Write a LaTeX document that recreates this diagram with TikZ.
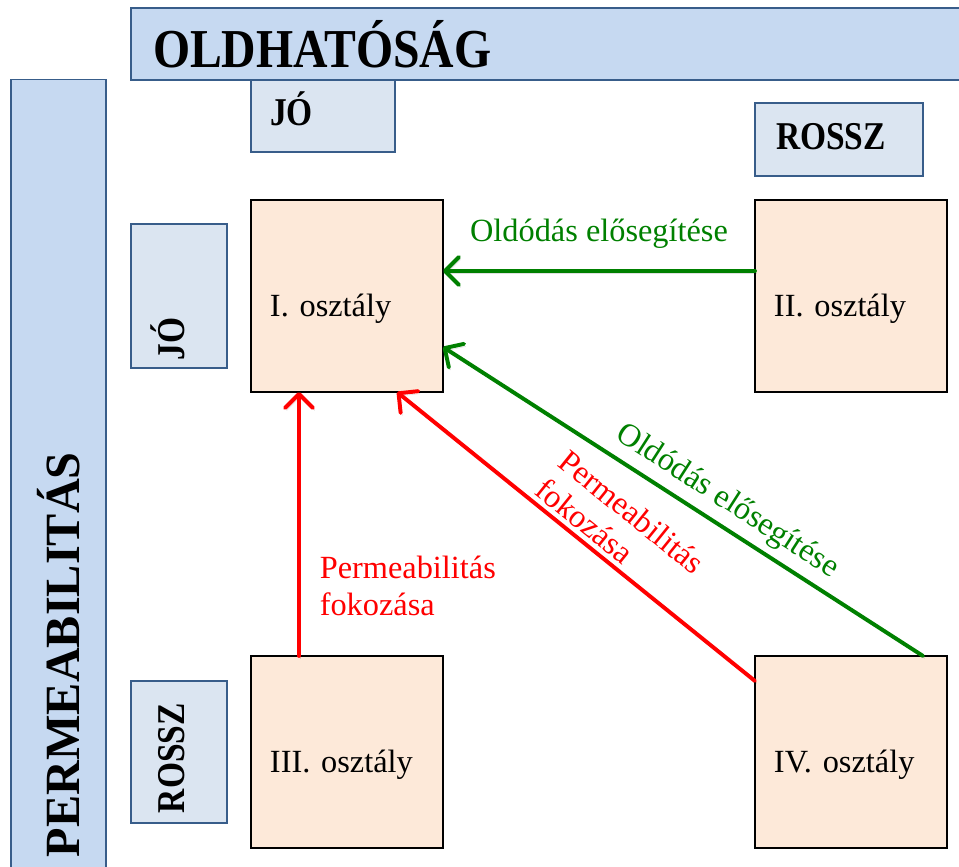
\documentclass[tikz,border=0pt]{standalone}
\usepackage{fontspec}
\setmainfont{Liberation Serif}
\usepackage{graphicx}
\usetikzlibrary{arrows.meta, positioning, calc}
\definecolor{HeadBlue}{rgb}{0.776, 0.851, 0.945}
\definecolor{LightBlue}{rgb}{0.859, 0.898, 0.945}
\definecolor{EdgeBlue}{rgb}{0.22, 0.365, 0.541}
\definecolor{ClassFill}{rgb}{0.992, 0.914, 0.851}
\definecolor{ArrGreen}{rgb}{0.0, 0.5, 0.0}
\definecolor{ArrRed}{rgb}{1.0, 0.0, 0.0}
\newcommand{\narrow}[1]{\scalebox{0.85}[1]{#1}}

\begin{document}
\begin{tikzpicture}[
    x=0.025cm, y=-0.025cm,
    txt/.style={font=\fontsize{23}{26}\selectfont},
    band/.style={draw=EdgeBlue, line width=0.9pt, fill=HeadBlue, align=left,
        inner ysep=0pt, outer sep=0pt},
    lvl/.style={band, fill=LightBlue, font=\fontsize{28}{28}\selectfont\bfseries,
        text height=20pt, text depth=6pt},
    lvlrot/.style={lvl, rotate=90, anchor=west, minimum height=2.4cm,
        text height=20pt, text depth=12pt},
    cls/.style={draw=black, line width=0.9pt, fill=ClassFill, txt, align=left,
        minimum height=4.8cm, inner xsep=0.475cm, text width=3.85cm, outer sep=0pt,
        text height=29pt, text depth=0pt},
    arr/.style={line width=2.8pt, line cap=round,
        -{Straight Barb[length=3.5mm, width=7mm, line cap=round, line join=round]},
        preaction={draw=black, opacity=0.12, transform canvas={shift={(1.2pt,-1.8pt)}}}},
    lbl/.style={txt, inner sep=2pt, align=left},
]
\useasboundingbox (0,0) rectangle (959,867);
\clip (0,0) rectangle (959,867);

% fejlecek
\node[band, anchor=west, minimum height=1.8cm, inner xsep=0.55cm, text width=20.25cm,
      font=\fontsize{39}{39}\selectfont\bfseries] (oldh) at (131,44)
      {\scalebox{0.87}[1]{OLDHATÓSÁG}};
\node[band, rotate=90, anchor=west, minimum height=2.375cm, inner xsep=0.825cm,
      text width=18.6cm, font=\fontsize{35}{35}\selectfont\bfseries] (perm) at (58.5,890)
      {\scalebox{0.98}[1]{PERMEABILITÁS}};

% jo / rossz
\node[lvl, anchor=north west, minimum height=1.8cm, inner xsep=0.475cm, text width=2.65cm]
      (jotop) at (251,80) {\narrow{JÓ}};
\node[lvl, anchor=north west, minimum height=1.825cm, inner xsep=0.525cm, text width=3.15cm]
      (rosszt) at (755,103) {\narrow{ROSSZ}};
\node[lvlrot, inner xsep=0.2cm, text width=3.2cm] (jobal) at (179,368) {\narrow{JÓ}};
\node[lvlrot, inner xsep=0.25cm, text width=3.05cm] (rosszb) at (179,823) {\narrow{ROSSZ}};

% osztalyok
\node[cls] (one) at (347,296) {I. osztály};
\node[cls] (two) at (851,296) {II. osztály};
\node[cls] (three) at (347,752) {III. osztály};
\node[cls] (four) at (851,752) {IV. osztály};

% nyilak
\draw[arr, ArrGreen] ([yshift=0.625cm]two.west) --
    node[lbl, above=0.45cm, text=ArrGreen] (oldA) {Oldódás elősegítése}
    ([yshift=0.625cm]one.east);
\draw[arr, ArrGreen] ([xshift=1.8cm]four.north) --
    node[lbl, sloped, pos=0.435, above=3pt, text=ArrGreen] (oldB) {Oldódás elősegítése}
    ([yshift=-1.275cm]one.east);
\draw[arr, ArrRed] ([xshift=-1.2cm]three.north) --
    node[lbl, pos=0.265, right=0.4cm, text=ArrRed] (permA) {Permeabilitás\\fokozása}
    ([xshift=-1.2cm]one.south);
\draw[arr, ArrRed] ([yshift=1.775cm]four.west) --
    node[lbl, sloped, pos=0.44, above=1pt, text=ArrRed] (permB) {Permeabilitás\\fokozása}
    ([xshift=1.25cm]one.south);

\end{tikzpicture}
\end{document}
